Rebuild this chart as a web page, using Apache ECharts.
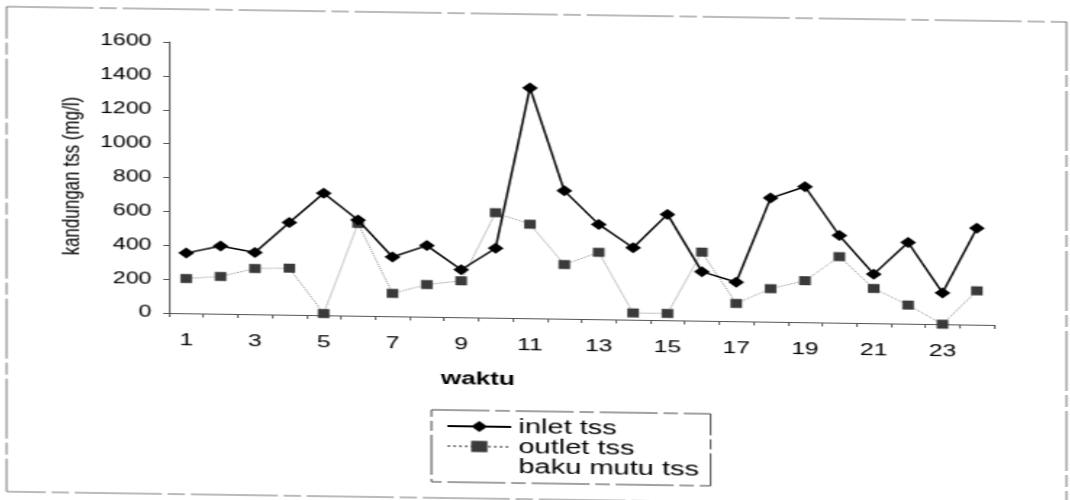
<!DOCTYPE html>
<html>
<head>
<meta charset="utf-8">
<title>kandungan tss</title>
<script src="https://cdn.jsdelivr.net/npm/echarts@6/dist/echarts.min.js"></script>
<style>
  html, body { margin: 0; padding: 0; background: #fff; overflow: hidden; }
  /* the scan is wide and slightly slanted: stretch and skew the chart the same way */
  #chart {
    position: absolute; left: 52px; top: 0;
    width: 738px; height: 500px;
    transform-origin: 117px 313px;
    transform: skewY(0.83deg) scaleX(1.45);
  }
</style>
</head>
<body>
<div id="chart"></div>
<script>
'use strict';

var waktu = ['1', '2', '3', '4', '5', '6', '7', '8', '9', '10', '11', '12',
  '13', '14', '15', '16', '17', '18', '19', '20', '21', '22', '23', '24'];
var inletTss = [355, 400, 365, 545, 720, 565, 350, 420, 280, 410, 1360, 755,
  560, 425, 625, 290, 230, 730, 800, 515, 290, 480, 185, 570];
var outletTss = [205, 220, 270, 275, 10, 545, 135, 190, 215, 620, 555, 320,
  395, 40, 40, 405, 105, 195, 245, 390, 205, 110, 0, 200];
var bakuMutuTss = [];

var font = 'Liberation Sans, Arial, sans-serif';

var chart = echarts.init(document.getElementById('chart'));

var option = {
  animation: false,
  backgroundColor: '#fff',
  textStyle: { fontFamily: font, color: '#000' },
  graphic: [{
    type: 'rect',
    shape: { x: 5, y: 9, width: 731, height: 485 },
    style: { fill: 'none', stroke: '#777', lineWidth: 1, lineDash: [60, 4, 12, 4] },
    silent: true
  }],
  grid: { left: 117, right: 52, top: 42, bottom: 187 },
  legend: {
    orient: 'vertical',
    left: 298,
    top: 406,
    padding: [6, 8, 6, 10],
    itemGap: 0,
    itemWidth: 44,
    itemHeight: 14,
    borderColor: '#444',
    borderWidth: 1,
    borderType: [40, 4, 10, 4],
    textStyle: { fontFamily: font, fontSize: 20, color: '#000', lineHeight: 20 },
    data: ['inlet tss', 'outlet tss', 'baku mutu tss']
  },
  xAxis: {
    type: 'category',
    data: waktu,
    boundaryGap: true,
    name: 'waktu',
    nameLocation: 'middle',
    nameGap: 53,
    nameTextStyle: {
      fontFamily: font, fontSize: 18, fontWeight: 'bold', color: '#000',
      padding: [0, 143, 0, 0]
    },
    axisLine: { lineStyle: { color: '#555', width: 1 } },
    axisTick: { show: true, interval: 0, length: 4, lineStyle: { color: '#555' } },
    axisLabel: { interval: 1, margin: 19, fontSize: 17, color: '#000', fontFamily: font },
    splitLine: { show: false }
  },
  yAxis: {
    type: 'value',
    min: 0,
    max: 1600,
    interval: 200,
    name: 'kandungan tss (mg/l)',
    nameLocation: 'middle',
    nameRotate: 90,
    nameGap: 36,
    nameTextStyle: { fontFamily: font, fontSize: 17, color: '#000' },
    axisLine: { show: true, lineStyle: { color: '#555', width: 1 } },
    axisTick: { show: true, length: 4, lineStyle: { color: '#555' } },
    axisLabel: {
      margin: 12, fontSize: 16, color: '#000', fontFamily: font,
      formatter: function (v) { return String(v); }
    },
    splitLine: { show: false }
  },
  series: [
    {
      name: 'inlet tss',
      type: 'line',
      data: inletTss,
      symbol: 'diamond',
      symbolSize: [11, 11],
      itemStyle: { color: '#000' },
      lineStyle: { color: '#000', width: 1.5 },
      z: 3
    },
    {
      name: 'outlet tss',
      type: 'line',
      data: outletTss,
      symbol: 'rect',
      symbolSize: [8, 9],
      itemStyle: { color: '#3a3a3a' },
      lineStyle: { color: '#8a8a8a', width: 1, type: 'dotted' },
      z: 2
    },
    {
      name: 'baku mutu tss',
      type: 'line',
      data: bakuMutuTss,
      symbol: 'none',
      itemStyle: { color: 'rgba(0,0,0,0)' },
      lineStyle: { color: 'rgba(0,0,0,0)', width: 0 }
    }
  ]
};

chart.setOption(option);
</script>
</body>
</html>
